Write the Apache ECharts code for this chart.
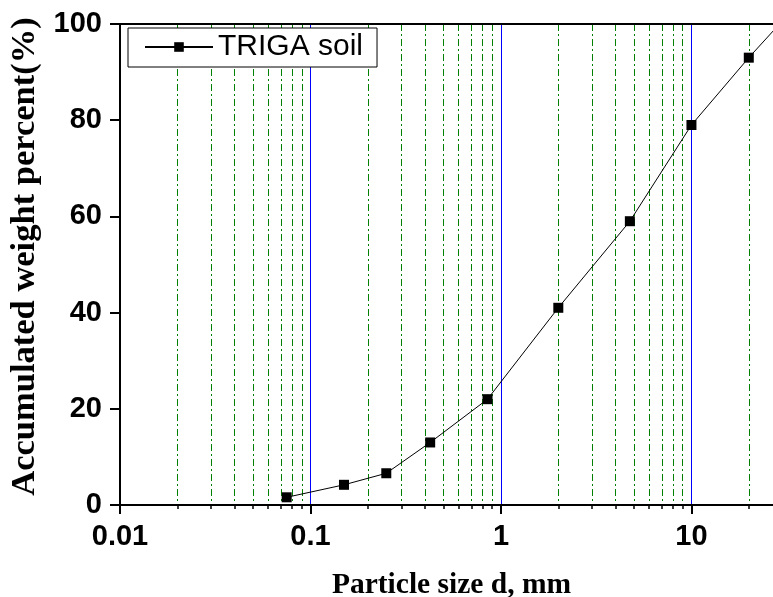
<!DOCTYPE html>
<html>
<head>
<meta charset="utf-8">
<script src="https://cdn.jsdelivr.net/npm/echarts@6/dist/echarts.min.js"></script>
<style>
html,body{margin:0;padding:0;background:#fff;}
#main{width:773px;height:597px;}
</style>
</head>
<body>
<div id="main"></div>
<script>
// particle size (mm) and accumulated weight percent
var sizes = [0.075, 0.15, 0.25, 0.425, 0.85, 2, 4.75, 10, 20, 29];
var percents = [1.6, 4.2, 6.6, 13, 22, 41, 59, 79, 93, 100];

var majorTicks = [0.01, 0.1, 1, 10];
var minorTicks = [0.02,0.03,0.04,0.05,0.06,0.07,0.08,0.09,
                  0.2,0.3,0.4,0.5,0.6,0.7,0.8,0.9,
                  2,3,4,5,6,7,8,9,20];
var yTicks = [0, 20, 40, 60, 80, 100];

var xMin = 0.01, xMax = 26.8;

var myChart = echarts.init(document.getElementById('main'));

var pts = [];
for (var k = 0; k < sizes.length; k++) {
	pts.push([sizes[k], percents[k]]);
}

var option = {
	animation: false,
	grid: {left: 120, right: 0, top: 24, bottom: 92, outerBoundsMode: 'none', containLabel: false},
	legend: {
		left: 128, top: 28,
		padding: [4, 14, 5, 16],
		backgroundColor: '#fff',
		borderColor: '#000', borderWidth: 1,
		itemWidth: 68, itemHeight: 12, itemGap: 10,
		textStyle: {fontFamily: 'Liberation Sans', fontSize: 30, color: '#000'},
		data: ['TRIGA soil']
	},
	xAxis: [
		{
			// major decades: labels, long ticks, blue grid lines
			type: 'log', min: xMin, max: xMax, logBase: 10,
			position: 'bottom',
			name: 'Particle size d, mm', nameLocation: 'middle', nameGap: 65,
			nameTextStyle: {fontFamily: 'Liberation Serif', fontWeight: 'bold', fontSize: 29.5, color: '#000', padding: [0, 0, 0, 10]},
			axisLine: {lineStyle: {color: '#000', width: 2}},
			axisTick: {length: 9, lineStyle: {color: '#000', width: 2}, customValues: majorTicks},
			axisLabel: {customValues: majorTicks, margin: 17, fontFamily: 'Liberation Sans', fontWeight: 'bold', fontSize: 29, color: '#000',
				formatter: function (v) { return String(v); }},
			splitLine: {show: true, lineStyle: {color: '#0000ff', width: 1, type: 'solid'}},
			minorTick: {show: false}, minorSplitLine: {show: false}
		},
		{
			// minor values: short ticks, green dash-dot grid lines
			type: 'log', min: xMin, max: xMax, logBase: 10,
			position: 'bottom',
			axisLine: {show: false},
			axisTick: {length: 4, lineStyle: {color: '#000', width: 1.5}, customValues: minorTicks},
			axisLabel: {show: false},
			splitLine: {show: true, lineStyle: {color: '#008000', width: 1, type: [7, 3, 2, 3]}},
			minorTick: {show: false}, minorSplitLine: {show: false}
		},
		{
			type: 'log', min: xMin, max: xMax, logBase: 10,
			position: 'top',
			axisLine: {lineStyle: {color: '#000', width: 2}},
			axisTick: {show: false}, axisLabel: {show: false}, splitLine: {show: false},
			minorTick: {show: false}, minorSplitLine: {show: false}
		}
	],
	yAxis: {
		type: 'value', min: 0, max: 100, interval: 20,
		name: 'Accumulated weight percent(%)', nameLocation: 'middle', nameGap: 71,
		nameTextStyle: {fontFamily: 'Liberation Serif', fontWeight: 'bold', fontSize: 34.5, color: '#000', padding: [0, 0, 0, 16]},
		axisLine: {show: true, lineStyle: {color: '#000', width: 2}},
		axisTick: {show: true, length: 10, lineStyle: {color: '#000', width: 2}},
		axisLabel: {margin: 18, fontFamily: 'Liberation Sans', fontWeight: 'bold', fontSize: 29, color: '#000',
			formatter: function (v) { return yTicks.indexOf(v) >= 0 ? String(v) : ''; }},
		splitLine: {show: false}
	},
	series: [
		{
			name: 'TRIGA soil',
			type: 'line',
			xAxisIndex: 0,
			data: pts,
			symbol: 'rect', symbolSize: 10,
			itemStyle: {color: '#000'},
			lineStyle: {color: '#000', width: 1},
			clip: true,
			z: 5
		}
	]
};
myChart.setOption(option);
</script>
</body>
</html>
